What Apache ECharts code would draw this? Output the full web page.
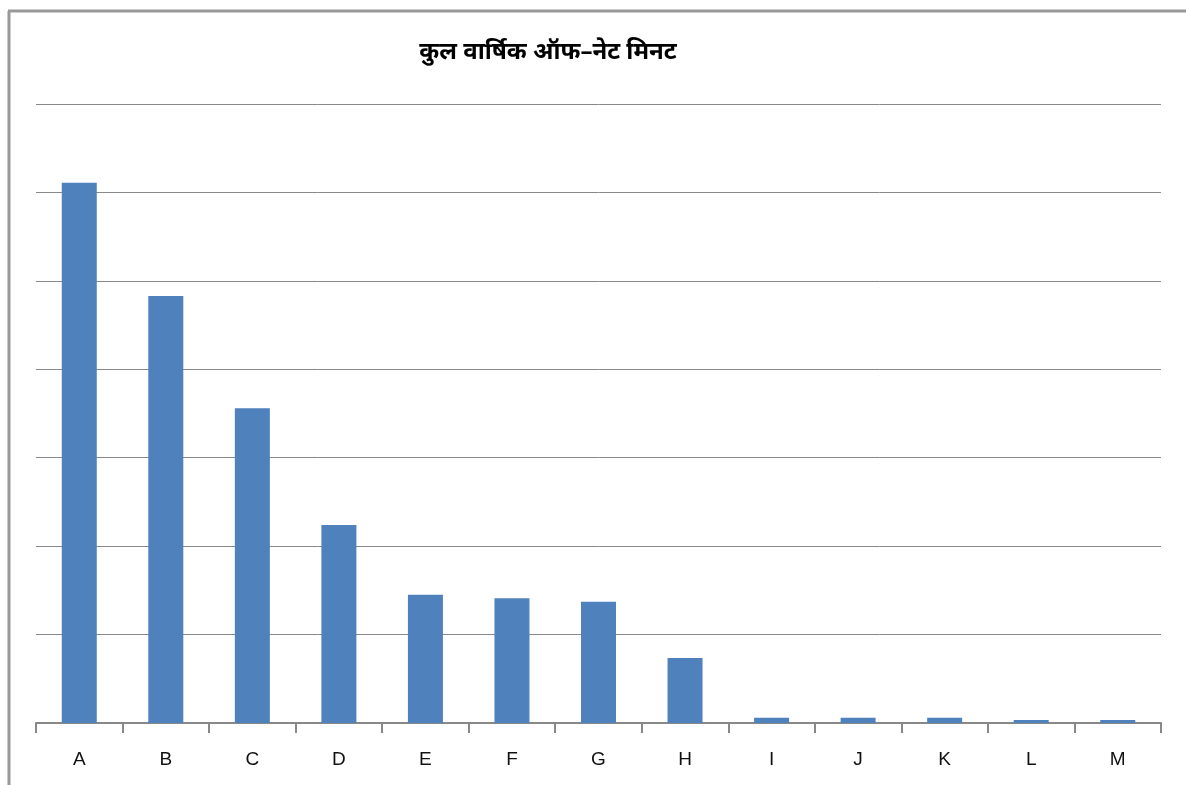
<!DOCTYPE html>
<html>
<head>
<meta charset="utf-8">
<style>
  html, body { margin: 0; padding: 0; background: #fff; }
  #chart { width: 1186px; height: 785px; }
</style>
<script src="https://cdn.jsdelivr.net/npm/echarts@6/dist/echarts.min.js"></script>
</head>
<body>
<div id="chart"></div>
<script>
// Total annual off-net minutes per operator
const titleText = 'कुल वार्षिक ऑफ–नेट मिनट';
const categories = ['A', 'B', 'C', 'D', 'E', 'F', 'G', 'H', 'I', 'J', 'K', 'L', 'M'];
const minutes = [6.11, 4.83, 3.56, 2.24, 1.45, 1.41, 1.37, 0.735, 0.06, 0.06, 0.06, 0.035, 0.035];

const chart = echarts.init(document.getElementById('chart'), null, { renderer: 'canvas' });

chart.setOption({
  animation: false,
  backgroundColor: '#ffffff',
  title: {
    text: titleText,
    left: 543,
    top: 35,
    textAlign: 'center',
    textStyle: {
      fontFamily: 'Noto Sans, DejaVu Sans, sans-serif',
      fontSize: 24,
      fontWeight: 'bold',
      color: '#000'
    }
  },
  graphic: [
    // chart frame: left and top edges
    { type: 'line', shape: { x1: 9, y1: 11, x2: 9, y2: 785 }, style: { stroke: '#999', lineWidth: 3 } },
    { type: 'line', shape: { x1: 8, y1: 11, x2: 1186, y2: 11 }, style: { stroke: '#999', lineWidth: 3 } }
  ],
  grid: { left: 36, right: 25, top: 104, bottom: 62, containLabel: false },
  xAxis: {
    type: 'category',
    data: categories,
    boundaryGap: true,
    axisLine: { show: true, lineStyle: { color: '#888', width: 2 } },
    axisTick: { show: true, alignWithLabel: false, length: 10, lineStyle: { color: '#888', width: 2 } },
    axisLabel: { color: '#111', fontSize: 19, margin: 27, fontFamily: 'Liberation Sans, Arial, sans-serif' }
  },
  yAxis: {
    type: 'value',
    min: 0,
    max: 7,
    interval: 1,
    axisLine: { show: false },
    axisTick: { show: false },
    axisLabel: { show: false },
    splitLine: { show: true, lineStyle: { color: '#888', width: 1 } }
  },
  series: [{
    type: 'bar',
    data: minutes,
    barWidth: 35,
    itemStyle: { color: '#4f81bd' }
  }]
});
</script>
</body>
</html>
